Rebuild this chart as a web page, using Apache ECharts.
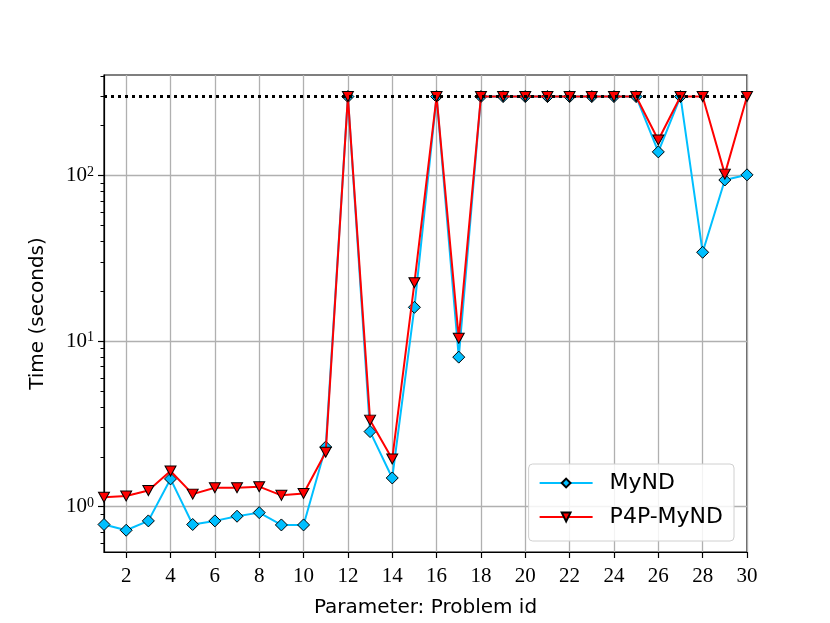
<!DOCTYPE html>
<html><head><meta charset="utf-8">
<script src="https://cdn.jsdelivr.net/npm/echarts@6/dist/echarts.min.js"></script>
<style>html,body{margin:0;padding:0;background:#fff}#c{width:830px;height:623px}</style>
</head><body><div id="c"></div>
<script>
const problemIds = [1,2,3,4,5,6,7,8,9,10,11,12,13,14,15,16,17,18,19,20,21,22,23,24,25,26,27,28,29,30];
const myndTimes = [0.78,0.72,0.82,1.47,0.78,0.82,0.875,0.92,0.775,0.775,2.29,300,2.84,1.49,16.0,300,8.0,300,300,300,300,300,300,300,300,139,300,34.4,94,101];
const p4pMyndTimes = [1.14,1.16,1.25,1.64,1.19,1.30,1.30,1.32,1.17,1.20,2.13,300,3.33,1.94,22.5,300,10.4,300,300,300,300,300,300,300,300,164,300,300,102,300];
const timeoutLimit = 300;
const xTickValues = [2,4,6,8,10,12,14,16,18,20,22,24,26,28,30];
const yMajorTicks = [1,10,100];
const yMinorTicks = [0.6,0.7,0.8,0.9,2,3,4,5,6,7,8,9,20,30,40,50,60,70,80,90,200,300,400];
const seriesNames = ['MyND','P4P-MyND'];

const yMin = 0.532, yMax = 405;
const chart = echarts.init(document.getElementById('c'));
const serif = 'Liberation Serif';
const sans = 'DejaVu Sans';
chart.setOption({
  animation: false,
  backgroundColor: '#fff',
  grid: {left: 104, right: 83, top: 75, bottom: 69, show: true, borderColor: '#000', borderWidth: 1.2, backgroundColor: 'transparent'},
  legend: {
    data: seriesNames, orient: 'vertical', right: 96, bottom: 82,
    padding: [8, 11, 13, 10], itemGap: 12, itemWidth: 53, itemHeight: 11,
    backgroundColor: 'rgba(255,255,255,0.85)', borderColor: '#d0d0d0', borderWidth: 1, borderRadius: 4,
    textStyle: {fontFamily: sans, fontSize: 22, color: '#000', padding: [0, 0, 0, 12]}
  },
  xAxis: {
    type: 'value', min: 1, max: 30,
    name: 'Parameter: Problem id', nameLocation: 'middle', nameGap: 46,
    nameTextStyle: {fontFamily: sans, fontSize: 20, color: '#000'},
    axisLine: {lineStyle: {color: '#000', width: 1.2}},
    axisTick: {customValues: xTickValues, length: 6, lineStyle: {color: '#000', width: 1.2}},
    axisLabel: {customValues: xTickValues, margin: 14, fontFamily: serif, fontSize: 21, color: '#000'},
    splitLine: {show: true, lineStyle: {color: '#b0b0b0', width: 1.3}}
  },
  yAxis: [{
    type: 'log', logBase: 10, min: yMin, max: yMax,
    name: 'Time (seconds)', nameLocation: 'middle', nameGap: 56,
    nameTextStyle: {fontFamily: sans, fontSize: 20, color: '#000'},
    axisLine: {show: true, lineStyle: {color: '#000', width: 1.2}},
    axisTick: {customValues: yMajorTicks, length: 6, lineStyle: {color: '#000', width: 1.2}},
    axisLabel: {
      customValues: yMajorTicks, margin: 10,
      formatter: v => '{b|10}{s|' + Math.round(Math.log10(v)) + '}',
      rich: {
        b: {fontFamily: serif, fontSize: 21, color: '#000'},
        s: {fontFamily: serif, fontSize: 14, color: '#000', verticalAlign: 'top'}
      }
    },
    splitLine: {show: true, lineStyle: {color: '#b0b0b0', width: 1.3}}
  }, {
    type: 'log', logBase: 10, min: yMin, max: yMax, position: 'left',
    axisLine: {show: false},
    axisTick: {customValues: yMinorTicks, length: 3.5, lineStyle: {color: '#000', width: 1}},
    axisLabel: {show: false},
    splitLine: {show: false}
  }],
  series: [{
    name: seriesNames[0], type: 'line', yAxisIndex: 0,
    data: problemIds.map((p, i) => [p, myndTimes[i]]),
    symbol: 'diamond', symbolSize: 12,
    lineStyle: {color: '#00bfff', width: 2},
    itemStyle: {color: '#00bfff', borderColor: '#000', borderWidth: 1},
    z: 2
  }, {
    name: seriesNames[1], type: 'line', yAxisIndex: 0,
    data: problemIds.map((p, i) => [p, p4pMyndTimes[i]]),
    symbol: 'triangle', symbolRotate: 180, symbolSize: [11, 10],
    lineStyle: {color: '#ff0000', width: 2},
    itemStyle: {color: '#ff0000', borderColor: '#000', borderWidth: 1},
    z: 3,
    markLine: {
      silent: true, symbol: 'none', label: {show: false},
      lineStyle: {color: '#000', type: [3, 4], width: 3},
      data: [{yAxis: timeoutLimit}]
    }
  }]
});
</script></body></html>
